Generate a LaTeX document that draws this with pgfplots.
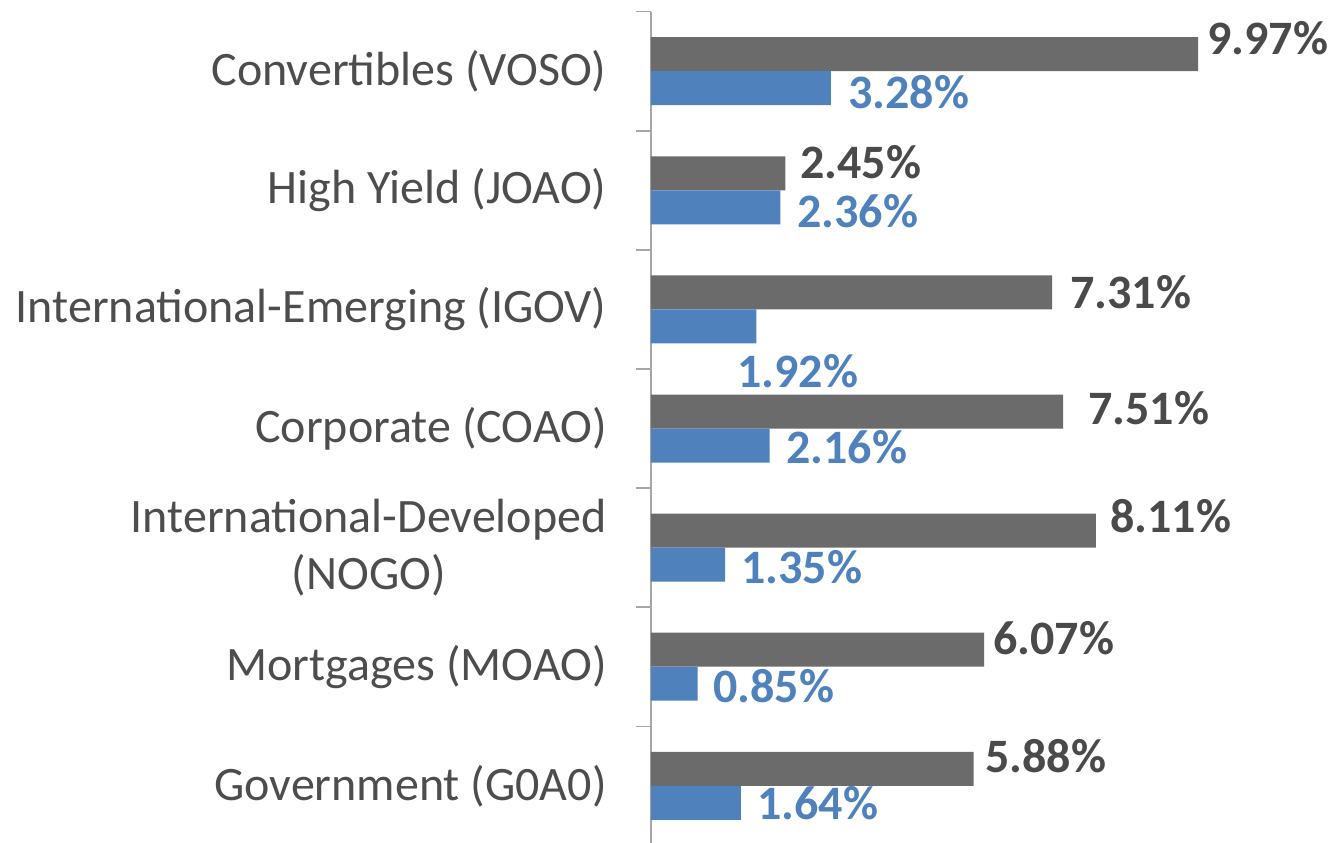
\documentclass[border=0pt]{standalone}
\usepackage{pgfplots}
\pgfplotsset{compat=1.18}
\usepackage{fontspec}
\setmainfont{Carlito}
\definecolor{barGray}{HTML}{6B6B6B}
\definecolor{lblGray}{HTML}{4A4A4A}
\definecolor{barBlue}{HTML}{4F81BD}
\definecolor{axGray}{HTML}{A6A6A6}
\definecolor{catText}{HTML}{4D4D4D}
\begin{document}
\begin{tikzpicture}
\begin{axis}[
  at={(0,0)}, anchor=south west,
  scale only axis,
  width=329.2pt, height=416.85pt,
  xmin=0, xmax=12,
  ymin=-0.5, ymax=6.5,
  clip=false,
  axis y line*=left,
  axis x line=none,
  axis line style={draw=axGray, line width=0.75pt},
  ytick={0,1,2,3,4,5,6},
  yticklabels={Government (G0A0),Mortgages (MOAO),{International-Developed\\(NOGO)},Corporate (COAO),International-Emerging (IGOV),High Yield (JOAO),Convertibles (VOSO)},
  minor ytick={-0.5,0.5,1.5,2.5,3.5,4.5,5.5,6.5},
  major tick length=0pt,
  minor tick length=7.5pt,
  tick align=outside,
  tick style={draw=axGray, line width=0.75pt},
  minor tick style={draw=axGray, line width=0.75pt},
  yticklabel style={anchor=east, align=center, inner sep=0pt, xshift=-22pt,
    font=\fontsize{24}{28.5}\selectfont, text=catText},
]
% grey series
\addplot[xbar, bar width=17pt, bar shift=8.5pt, fill=barGray, draw=none] coordinates {
  (5.88,0) (6.07,1) (8.11,2) (7.51,3) (7.31,4) (2.45,5) (9.97,6)
};
% blue series
\addplot[xbar, bar width=17pt, bar shift=-8.5pt, fill=barBlue, draw=none] coordinates {
  (1.64,0) (0.85,1) (1.35,2) (2.16,3) (1.92,4) (2.36,5) (3.28,6)
};
% grey labels
\addplot[draw=none, mark=none, forget plot, nodes near coords, point meta=explicit symbolic,
  every node near coord/.append style={anchor=west, inner sep=0pt, text=lblGray,
    font=\fontsize{24}{28.5}\selectfont\bfseries}] coordinates {
  (10.133,6.279) [9.97\%]
  (2.716,5.238) [2.45\%]
  (7.636,4.146) [7.31\%]
  (7.964,3.172) [7.51\%]
  (8.365,2.265) [8.11\%]
  (6.233,1.241) [6.07\%]
  (6.087,0.250) [5.88\%]
};
% blue labels
\addplot[draw=none, mark=none, forget plot, nodes near coords, point meta=explicit symbolic,
  every node near coord/.append style={anchor=west, inner sep=0pt, text=barBlue,
    font=\fontsize{24}{28.5}\selectfont\bfseries}] coordinates {
  (3.590,5.825) [3.28\%]
  (2.661,4.826) [2.36\%]
  (1.567,3.483) [1.92\%]
  (2.460,2.845) [2.16\%]
  (1.640,1.837) [1.35\%]
  (1.130,0.838) [0.85\%]
  (1.932,-0.144) [1.64\%]
};
\end{axis}
\pgfresetboundingbox
\path (-325.5pt,1.68pt) rectangle (339.5pt,422.68pt);
\end{tikzpicture}
\end{document}
